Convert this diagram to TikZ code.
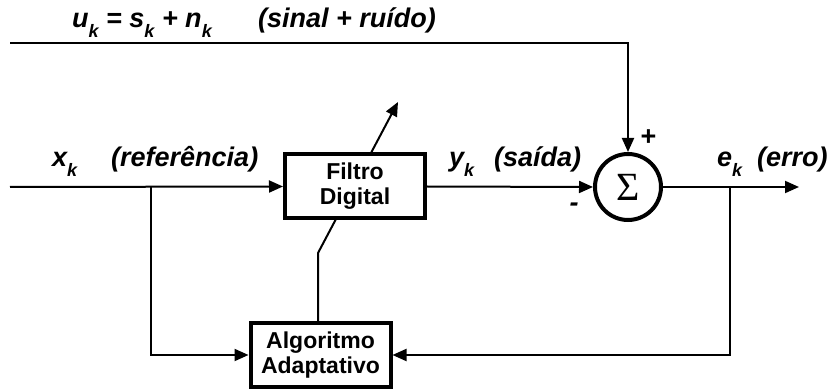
\documentclass[tikz,border=0pt]{standalone}
\usepackage{fontspec}
\setmainfont{Liberation Sans}
\newfontfamily\sigmafont{Liberation Serif}
\usetikzlibrary{arrows.meta,backgrounds}
% lowered subscript in the label font
\newcommand\sk[1]{\raisebox{-0.36em}{\fontsize{18}{18}\selectfont #1}}

\begin{document}
\begin{tikzpicture}[x=1pt,y=-1pt,
  wire/.style={line width=2pt},
  arr/.style={wire,-{Triangle[length=14pt,width=12pt]}},
  blk/.style={draw,line width=4pt,fill=white,minimum width=140pt,minimum height=64pt,
    align=center,inner sep=0pt,font=\fontsize{23}{25}\selectfont\bfseries},
  lbl/.style={inner sep=0pt,font=\fontsize{27}{27}\selectfont\bfseries\itshape},
  sgn/.style={inner sep=0pt,font=\fontsize{27}{27}\selectfont\bfseries\itshape}]

\useasboundingbox (0,0) rectangle (828,390);

% blocks
\node[blk] (filt) at (355,186.5) {Filtro\\Digital};
\node[blk] (alg)  at (320.5,355) {Algoritmo\\Adaptativo};
\node[draw,circle,line width=4pt,minimum size=66pt,inner sep=0pt] (sum) at (628,187)
  {\fontsize{40}{40}\sigmafont Σ};

% free ends and corners
\coordinate (in)     at (10,187);
\coordinate (tapx)   at (151,187);
\coordinate (utop)   at (10,43);
\coordinate (ucorn)  at (628,43);
\coordinate (out)    at (799,187);
\coordinate (tape)   at (730,187);
\coordinate (bend)   at (318,253);
\coordinate (tip)    at (398,102);

% adaptation arrow, passing behind the filter block
\begin{pgfonlayer}{background}
  \draw[arr] (bend |- alg.center) -- (bend) -- (tip);
\end{pgfonlayer}

% signal paths
\draw[arr] (in) -- (filt.west);
\draw[arr] (filt.east) -- (sum.west);
\draw[arr] (utop) -- (ucorn) -- (sum.north);
\draw[arr] (sum.east) -- (out);
\draw[arr] (tapx) |- (alg.west);
\draw[arr] (tape) |- (alg.east);

% labels
\node[lbl,anchor=base west] (ulab) at (72,28) {u\sk{k} = s\sk{k} + n\sk{k}};
\node[lbl,anchor=base west] (ulab2) at (258,28) {(sinal + ruído)};
\node[lbl,anchor=base west] (xlab) at (52,167) {x\sk{k}};
\node[lbl,anchor=base west] (xlab2) at (111,167) {(referência)};
\node[lbl,anchor=base west] (ylab) at (449,167) {y\sk{k}};
\node[lbl,anchor=base west] (ylab2) at (494,167) {(saída)};
\node[lbl,anchor=base west] (elab) at (717,167) {e\sk{k}};
\node[lbl,anchor=base west] (elab2) at (757,167) {(erro)};
\node[sgn] (plus) at (648,138) {+};
\node[sgn] (minus) at (574,207) {-};
\end{tikzpicture}
\end{document}
